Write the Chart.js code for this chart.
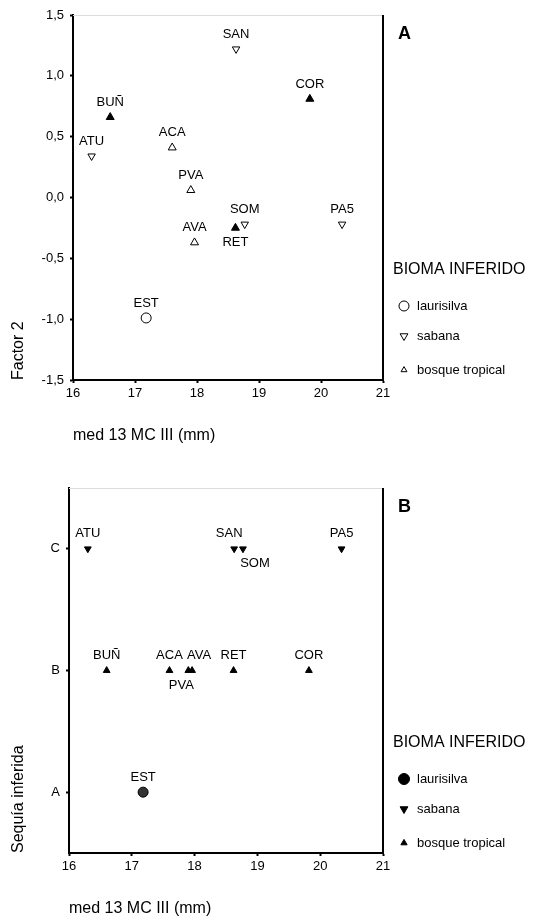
<!DOCTYPE html>
<html>
<head>
<meta charset="utf-8">
<script src="https://cdn.jsdelivr.net/npm/chart.js@4/dist/chart.umd.min.js"></script>
<style>
  body { margin: 0; background: #fff; }
  .panel { position: absolute; left: 0; width: 534px; height: 460px; }
</style>
</head>
<body>
<div class="panel" style="top:0"><canvas id="chartA" width="534" height="460"></canvas></div>
<div class="panel" style="top:460px"><canvas id="chartB" width="534" height="460"></canvas></div>
<script>
// Values
const sites   = ['ATU', 'BUÑ', 'ACA', 'PVA', 'AVA', 'EST', 'SAN', 'SOM', 'RET', 'COR', 'PA5'];
const mcIII   = [16.30, 16.60, 17.60, 17.90, 17.96, 17.18, 18.63, 18.77, 18.62, 19.82, 20.34];
const factor2 = [0.34, 0.66, 0.41, 0.06, -0.37, -0.99, 1.22, -0.22, -0.25, 0.81, -0.22];
const drought = ['C', 'B', 'B', 'B', 'B', 'A', 'C', 'C', 'B', 'B', 'C'];
const biome   = ['sabana', 'bosque tropical', 'bosque tropical', 'bosque tropical', 'bosque tropical',
                 'laurisilva', 'sabana', 'sabana', 'bosque tropical', 'bosque tropical', 'sabana'];
const biomes  = ['laurisilva', 'sabana', 'bosque tropical'];
const droughtLevels = ['C', 'B', 'A'];
const xTicks      = [16, 17, 18, 19, 20, 21];
const factorTicks = [-1.5, -1.0, -0.5, 0.0, 0.5, 1.0, 1.5];
const solidInA    = ['BUÑ', 'RET', 'COR'];

const FONT = '"Liberation Sans", Arial, sans-serif';
Chart.defaults.font.family = FONT;
Chart.defaults.color = '#000';

// marker shape for each biome
const markerStyle = {
    'laurisilva':      { shape: 'circle',   rotation: 0,   rA: 5,   rB: 5 },
    'sabana':          { shape: 'triangle', rotation: 180, rA: 4.3, rB: 3.9 },
    'bosque tropical': { shape: 'triangle', rotation: 0,   rA: 4.6, rB: 3.9 }
};

function buildDatasets(yValues, filled) {
    return biomes.map(b => {
        const idx = sites.map((s, i) => i).filter(i => biome[i] === b);
        const st = markerStyle[b];
        return {
            label: b,
            data: idx.map(i => ({ x: mcIII[i], y: yValues[i], site: sites[i] })),
            showLine: false,
            pointStyle: st.shape,
            pointRotation: st.rotation,
            pointRadius: filled ? st.rB : st.rA,
            pointHoverRadius: filled ? st.rB : st.rA,
            pointBorderWidth: 1,
            pointBorderColor: '#000',
            pointBackgroundColor: idx.map(i => {
                if (filled) return b === 'laurisilva' ? '#333' : '#000';
                return solidInA.includes(sites[i]) ? '#000' : '#fff';
            })
        };
    });
}

// grey top edge and black right edge of the frame
const framePlugin = {
    id: 'frame',
    beforeDatasetsDraw(chart) {
        const { ctx, chartArea: a } = chart;
        ctx.save();
        ctx.strokeStyle = '#dcdcdc';
        ctx.lineWidth = 1;
        ctx.beginPath();
        ctx.moveTo(a.left, a.top + 0.5);
        ctx.lineTo(a.right, a.top + 0.5);
        ctx.stroke();
        ctx.strokeStyle = '#000';
        ctx.lineWidth = 2;
        ctx.beginPath();
        ctx.moveTo(a.right, a.top);
        ctx.lineTo(a.right, a.bottom);
        ctx.stroke();
        ctx.restore();
    }
};

// site names next to the markers
const pointLabelPlugin = {
    id: 'pointLabels',
    afterDatasetsDraw(chart, args, opts) {
        const ctx = chart.ctx;
        ctx.save();
        ctx.font = '13px ' + FONT;
        ctx.fillStyle = '#000';
        ctx.textAlign = 'center';
        ctx.textBaseline = 'middle';
        chart.data.datasets.forEach((ds, di) => {
            chart.getDatasetMeta(di).data.forEach((pt, i) => {
                const site = ds.data[i].site;
                const place = opts.placement[site] || {};
                const dy = place.below ? 15 : -15;
                ctx.fillText(site, pt.x + (place.dx || 0), pt.y + dy);
            });
        });
        ctx.restore();
    }
};

// legend box at the right and the panel letter
const biomeLegendPlugin = {
    id: 'biomeLegend',
    afterDraw(chart, args, opts) {
        const { ctx, chartArea: a } = chart;
        const x0 = a.right + 10;
        const yTitle = a.bottom - 110;
        const rows = [36, 66, 100];
        ctx.save();
        ctx.textAlign = 'left';
        ctx.textBaseline = 'middle';
        ctx.fillStyle = '#000';
        ctx.font = '16px ' + FONT;
        ctx.fillText('BIOMA INFERIDO', x0, yTitle);
        ctx.font = '13px ' + FONT;
        chart.data.datasets.forEach((ds, i) => {
            const y = yTitle + rows[i];
            ctx.fillStyle = opts.filled ? '#000' : '#fff';
            ctx.strokeStyle = '#000';
            ctx.lineWidth = 1;
            Chart.helpers.drawPoint(ctx, {
                pointStyle: ds.pointStyle,
                rotation: ds.pointRotation,
                radius: opts.radius[i],
                borderWidth: 1
            }, x0 + 11, y);
            ctx.fillStyle = '#000';
            ctx.fillText(ds.label, x0 + 24, y);
        });
        ctx.font = 'bold 18px ' + FONT;
        ctx.fillText(opts.panel, a.right + 15, a.top + 19);
        ctx.restore();
    }
};

function axisLine() {
    return {
        border: { display: true, color: '#000', width: 2 },
        grid: { drawOnChartArea: false, drawTicks: true, tickLength: 3, tickWidth: 2, tickColor: '#000' }
    };
}

function makeChart(id, cfg) {
    return new Chart(document.getElementById(id), {
        type: 'scatter',
        data: { datasets: cfg.datasets },
        options: {
            responsive: false,
            animation: false,
            devicePixelRatio: 1,
            events: [],
            layout: { padding: { left: 0, top: cfg.top, right: 151, bottom: 0 } },
            plugins: {
                legend: { display: false },
                tooltip: { enabled: false },
                pointLabels: { placement: cfg.placement },
                biomeLegend: { filled: cfg.filled, radius: cfg.legendRadius, panel: cfg.panel }
            },
            scales: {
                x: Object.assign(axisLine(), {
                    type: 'linear',
                    min: 16,
                    max: 21,
                    afterBuildTicks: s => { s.ticks = xTicks.map(v => ({ value: v })); },
                    afterFit: s => { s.height = cfg.xAxisHeight; },
                    ticks: { color: '#000', font: { size: 13 }, padding: 3, maxRotation: 0 },
                    title: {
                        display: true, text: 'med 13 MC III (mm)', align: 'start', color: '#000',
                        font: { size: 16 }, padding: { top: 0, bottom: cfg.xTitlePad }
                    }
                }),
                y: Object.assign(axisLine(), cfg.y, {
                    afterFit: s => { s.width = cfg.yAxisWidth; },
                    title: {
                        display: true, text: cfg.yTitle, align: 'start', color: '#000',
                        font: { size: 16 }, padding: { top: 9, bottom: 0 }
                    }
                })
            }
        },
        plugins: [framePlugin, pointLabelPlugin, biomeLegendPlugin]
    });
}

// Panel A: Factor 2 against med 13 MC III
makeChart('chartA', {
    datasets: buildDatasets(factor2, false),
    filled: false,
    legendRadius: [5, 4.5, 3.4],
    panel: 'A',
    top: 15,
    xAxisHeight: 80,
    xTitlePad: 15,
    yAxisWidth: 73,
    yTitle: 'Factor 2',
    placement: { RET: { below: true } },
    y: {
        type: 'linear',
        min: -1.5,
        max: 1.5,
        afterBuildTicks: s => { s.ticks = factorTicks.map(v => ({ value: v })); },
        ticks: { color: '#000', font: { size: 13 }, padding: 6,
                 callback: v => v.toFixed(1).replace('.', ',') }
    }
});

// Panel B: inferred drought against med 13 MC III
makeChart('chartB', {
    datasets: buildDatasets(drought, true),
    filled: true,
    legendRadius: [5.5, 4.5, 3.6],
    panel: 'B',
    top: 28,
    xAxisHeight: 67,
    xTitlePad: 2,
    yAxisWidth: 69,
    yTitle: 'Sequía inferida',
    placement: {
        SAN: { dx: -5 },
        SOM: { below: true, dx: 12 },
        AVA: { dx: 7 },
        PVA: { below: true, dx: -7 }
    },
    y: {
        type: 'category',
        labels: droughtLevels,
        offset: true,
        ticks: { color: '#000', font: { size: 13 }, padding: 6 }
    }
});
</script>
</body>
</html>
